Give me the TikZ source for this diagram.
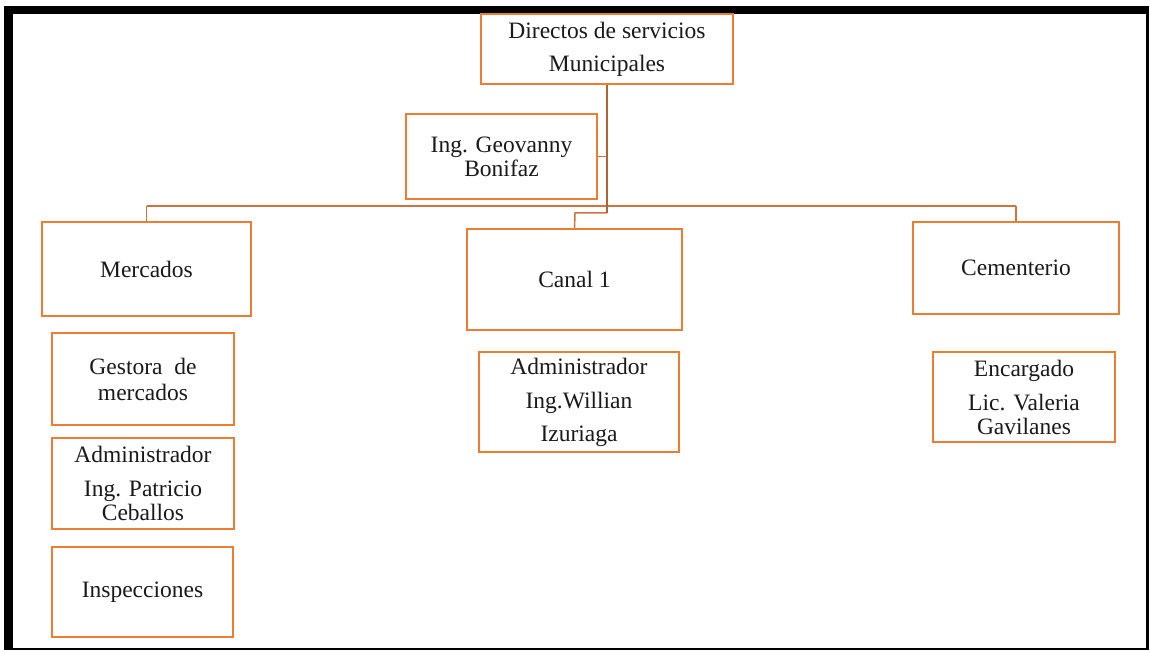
\documentclass[tikz,border=0pt]{standalone}
\usepackage{fontspec}
\setmainfont{Liberation Serif}
\definecolor{boxorange}{HTML}{ED7D31}
\definecolor{linkorange}{HTML}{CF7440}
\definecolor{txt}{HTML}{1A1A1A}
\begin{document}
\begin{tikzpicture}[x=1pt,y=-1pt,
  orgbox/.style={draw=boxorange, line width=1.3pt, fill=white, inner sep=0pt,
    align=center, text=txt, font=\fontsize{23.5}{24}\selectfont},
  link/.style={draw=linkorange, line width=1.5pt},
  trunk/.style={draw=linkorange!85!black, line width=2pt}]
\useasboundingbox (0,0) rectangle (1150,652);
\fill[white] (0,0) rectangle (1150,652);
% frame
\fill[black] (4,6) rectangle (1149,14);
\fill[black] (4,6) rectangle (13,650);
\fill[black] (1146,6) rectangle (1149,650);
\fill[black] (4,648) rectangle (1149,650);

% connectors (drawn first, boxes cover ends)
\coordinate (bend) at (607,213);
\coordinate (busL) at (146.5,206);
\coordinate (busR) at (1016,206);
\coordinate (busM) at (607,206);
\coordinate (canalTop) at (575,213);

% boxes
\node[orgbox, minimum width=252pt, minimum height=70pt] (top) at (607,49)
  {Directos de servicios\\[9pt]Municipales};
\node[orgbox, minimum width=191pt, minimum height=85pt] (geo) at (501.5,156.5)
  {Ing. Geovanny\\Bonifaz};
\node[orgbox, minimum width=209pt, minimum height=94pt] (merc) at (146.5,269)
  {Mercados};
\node[orgbox, minimum width=215pt, minimum height=101pt] (canal) at (574.5,279.5)
  {Canal 1};
\node[orgbox, minimum width=206pt, minimum height=92pt] (cem) at (1016,268)
  {Cementerio};
\node[orgbox, minimum width=182pt, minimum height=92pt] (gest) at (143,379)
  {Gestora~~de\\[2pt]mercados};
\node[orgbox, minimum width=182pt, minimum height=91pt] (patr) at (143,483.5)
  {Administrador\\[10pt]Ing. Patricio\\Ceballos};
\node[orgbox, minimum width=181pt, minimum height=90pt] (insp) at (142.5,592)
  {Inspecciones};
\node[orgbox, minimum width=200pt, minimum height=100pt] (will) at (579,402)
  {Administrador\\[10pt]Ing.Willian\\[9pt]Izuriaga};
\node[orgbox, minimum width=182pt, minimum height=90pt] (enc) at (1024,397)
  {Encargado\\[10pt]Lic. Valeria\\Gavilanes};

% links
\draw[link] (busL) -- (busR);
\draw[link] (busL) -- (merc.north);
\draw[link] (busR) -- (cem.north);
\draw[link] (geo.east) -- (geo.east -| bend);
\draw[link] (bend) -- (canalTop) -- (canal.north);
\draw[trunk] (top.south) -- (bend);
\end{tikzpicture}
\end{document}
